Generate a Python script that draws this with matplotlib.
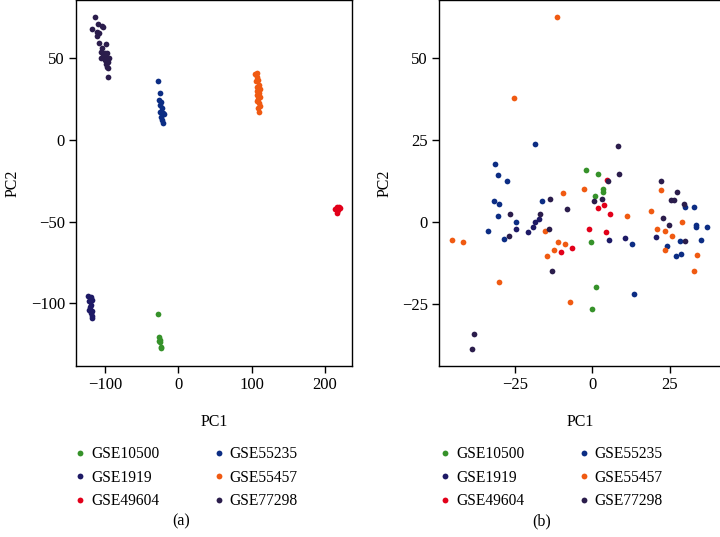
"""
PCA scatter before (a) and after (b) batch correction, two panels side by side.
"""
import matplotlib.pyplot as plt
from matplotlib.lines import Line2D

# ---------------- data: panel (a) ----------------
A_GSE10500_X = [-28.1, -26.0, -25.2, -24.5, -23.6, -23.0, -25.8]
A_GSE10500_Y = [-106.5, -120.4, -122.4, -124.0, -126.5, -127.6, -123.0]

A_GSE1919_X = [-122.8, -119.5, -117.3, -121.4, -119.1, -120.5, -121.4, -117.3, -119.5, -118.1, -117.3]
A_GSE1919_Y = [-95.3, -96.0, -98.0, -98.6, -101.0, -102.4, -104.1, -104.7, -106.1, -107.8, -109.2]

A_GSE49604_X = [216.1, 219.7, 213.8, 218.3, 216.9, 220.6]
A_GSE49604_Y = [-41.2, -40.8, -42.5, -42.9, -44.9, -41.8]

A_GSE55235_X = [-27.3, -25.4, -26.3, -23.6, -25.0, -22.6, -25.0, -21.3, -19.5, -23.6, -21.8, -21.3]
A_GSE55235_Y = [36.1, 28.8, 24.5, 23.5, 21.4, 19.4, 17.3, 16.3, 15.7, 14.3, 12.2, 10.6]

A_GSE55457_X = [104.6, 107.8, 106.9, 109.1, 106.0, 110.1, 106.9, 111.5, 107.8, 110.5,
                106.9, 111.5, 109.1, 106.9, 110.5, 111.5, 109.1, 110.5]
A_GSE55457_Y = [40.4, 40.8, 38.8, 36.7, 36.1, 33.7, 32.6, 31.0, 30.2, 28.6,
                27.6, 26.1, 24.9, 24.1, 22.5, 20.8, 19.4, 17.3]

A_GSE77298_X = [-113.5, -109.0, -104.5, -102.3, -117.7, -110.5, -107.8, -111.3, -107.8, -98.6,
                -104.5, -105.9, -100.0, -97.7, -103.2, -105.9, -98.6, -94.5, -100.0, -95.5,
                -98.6, -96.9, -95.5, -95.5]
A_GSE77298_Y = [75.5, 70.8, 69.8, 69.4, 68.2, 66.3, 65.3, 63.7, 59.2, 58.6,
                56.5, 54.1, 53.5, 53.1, 52.5, 50.4, 51.0, 50.0, 49.0, 47.9,
                46.5, 44.9, 43.9, 38.4]

# ---------------- data: panel (b) ----------------
B_GSE10500_X = [-2.1, 1.7, 3.4, 3.5, 0.9, -0.6, 1.0, -0.2]
B_GSE10500_Y = [15.9, 14.7, 10.2, 9.0, 7.8, -6.0, -20.0, -26.5]

B_GSE1919_X = [-17.1, -18.6, -24.8, -20.8, 10.4, 20.6, -19.2, 5.3]
B_GSE1919_Y = [1.0, 0.0, -2.0, -3.1, -4.9, -4.7, -1.5, -5.5]

B_GSE49604_X = [4.8, 1.7, 3.8, 5.7, -1.2, 4.3, -10.0, -6.5]
B_GSE49604_Y = [12.8, 4.4, 5.2, 2.3, -2.1, -3.1, -9.1, -8.1]

B_GSE55235_X = [-18.5, -31.3, -30.4, -27.5, -31.8, -30.0, -16.3, -30.6, -24.6, -33.6,
                -28.4, 30.0, 32.8, 33.5, 33.5, 36.9, 12.9, 23.9, 28.4, 35.1,
                27.0, 28.6, 13.4]
B_GSE55235_Y = [23.8, 17.8, 14.2, 12.5, 6.4, 5.6, 6.4, 1.7, -0.1, -2.9,
                -5.1, 4.5, 4.7, -0.9, -1.5, -1.6, -6.8, -7.4, -5.8, -5.6,
                -10.4, -9.8, -22.0]

B_GSE55457_X = [-11.5, -25.2, -9.5, -2.8, 11.1, 19.0, 22.2, 28.8, 20.9, 23.5,
                25.6, -15.3, -45.3, -41.6, -14.5, -12.5, -11.1, -8.7, -30.0, -7.1,
                23.5, 33.8, 32.7]
B_GSE55457_Y = [62.7, 38.0, 8.7, 10.1, 1.8, 3.2, 9.9, 0.1, -2.0, -2.9,
                -4.3, -2.9, -5.6, -6.1, -10.4, -8.6, -6.1, -6.8, -18.3, -24.3,
                -8.6, -10.1, -15.0]

B_GSE77298_X = [-13.7, -8.1, -26.5, -16.8, -14.0, -26.8, -12.9, -38.1, -38.9, 8.3,
                8.6, 5.0, 0.5, 3.0, 22.2, 27.4, 25.4, 26.3, 29.5, 22.7,
                24.7, 29.9]
B_GSE77298_Y = [7.0, 4.1, 2.4, 2.4, -2.3, -4.4, -15.0, -34.1, -38.9, 23.1,
                14.5, 12.4, 6.3, 6.9, 12.5, 9.2, 6.8, 6.6, 5.6, 1.2,
                -0.8, -5.7]

LABELS = ["GSE10500", "GSE1919", "GSE49604", "GSE55235", "GSE55457", "GSE77298"]
COLORS = ["#36922a", "#1e1a66", "#e2001a", "#0c2d84", "#f05a12", "#2b1d4c"]

plt.rcParams["font.family"] = ["Liberation Serif", "DejaVu Serif"]
plt.rcParams["axes.unicode_minus"] = True


def style_axes(ax):
    for s in ax.spines.values():
        s.set_linewidth(1.0)
    ax.tick_params(direction="out", length=5, width=1.0, labelsize=12, pad=3)
    ax.set_xlabel("PC1", fontsize=11.5, labelpad=15)
    ax.set_ylabel("PC2", fontsize=11.5, labelpad=7)


def draw_panel(ax, groups):
    for (xs, ys), color, label in zip(groups, COLORS, LABELS):
        ax.scatter(xs, ys, s=17, color=color, linewidths=0, label=label, zorder=3)


fig = plt.figure(figsize=(7.2, 5.37), dpi=100)
fig.patch.set_facecolor("white")

ax_a = fig.add_axes([76 / 720, (537 - 366) / 537, 276 / 720, 366 / 537])
ax_b = fig.add_axes([439 / 720, (537 - 366) / 537, 283 / 720, 366 / 537])

draw_panel(ax_a, [(A_GSE10500_X, A_GSE10500_Y), (A_GSE1919_X, A_GSE1919_Y),
                  (A_GSE49604_X, A_GSE49604_Y), (A_GSE55235_X, A_GSE55235_Y),
                  (A_GSE55457_X, A_GSE55457_Y), (A_GSE77298_X, A_GSE77298_Y)])
draw_panel(ax_b, [(B_GSE10500_X, B_GSE10500_Y), (B_GSE1919_X, B_GSE1919_Y),
                  (B_GSE49604_X, B_GSE49604_Y), (B_GSE55235_X, B_GSE55235_Y),
                  (B_GSE55457_X, B_GSE55457_Y), (B_GSE77298_X, B_GSE77298_Y)])

ax_a.set_xlim(-139.4, 236.8)
ax_a.set_ylim(-138.4, 85.7)
ax_a.set_xticks([-100, 0, 100, 200])
ax_a.set_yticks([-100, -50, 0, 50])

ax_b.set_xlim(-49.5, 41.8)
ax_b.set_ylim(-44.0, 67.8)
ax_b.set_xticks([-25, 0, 25])
ax_b.set_yticks([-25, 0, 25, 50])

for ax in (ax_a, ax_b):
    style_axes(ax)

# legends below each panel
handles = [Line2D([], [], marker="o", linestyle="none", markersize=4.2,
                  markerfacecolor=c, markeredgewidth=0) for c in COLORS]
leg_kw = dict(ncol=2, frameon=False, fontsize=11.2, handlelength=0.8,
              handletextpad=0.3, columnspacing=3.4, labelspacing=0.48,
              borderaxespad=0, loc="upper left")
fig.legend(handles, LABELS, bbox_to_anchor=(68 / 720, 1 - 440 / 537), **leg_kw)
fig.legend(handles, LABELS, bbox_to_anchor=(433 / 720, 1 - 440 / 537), **leg_kw)

fig.text(181 / 720, 1 - 521 / 537, "(a)", ha="center", va="center", fontsize=11.5)
fig.text(542 / 720, 1 - 521 / 537, "(b)", ha="center", va="center", fontsize=11.5)

fig.savefig("out.png", dpi=100)
plt.close(fig)
